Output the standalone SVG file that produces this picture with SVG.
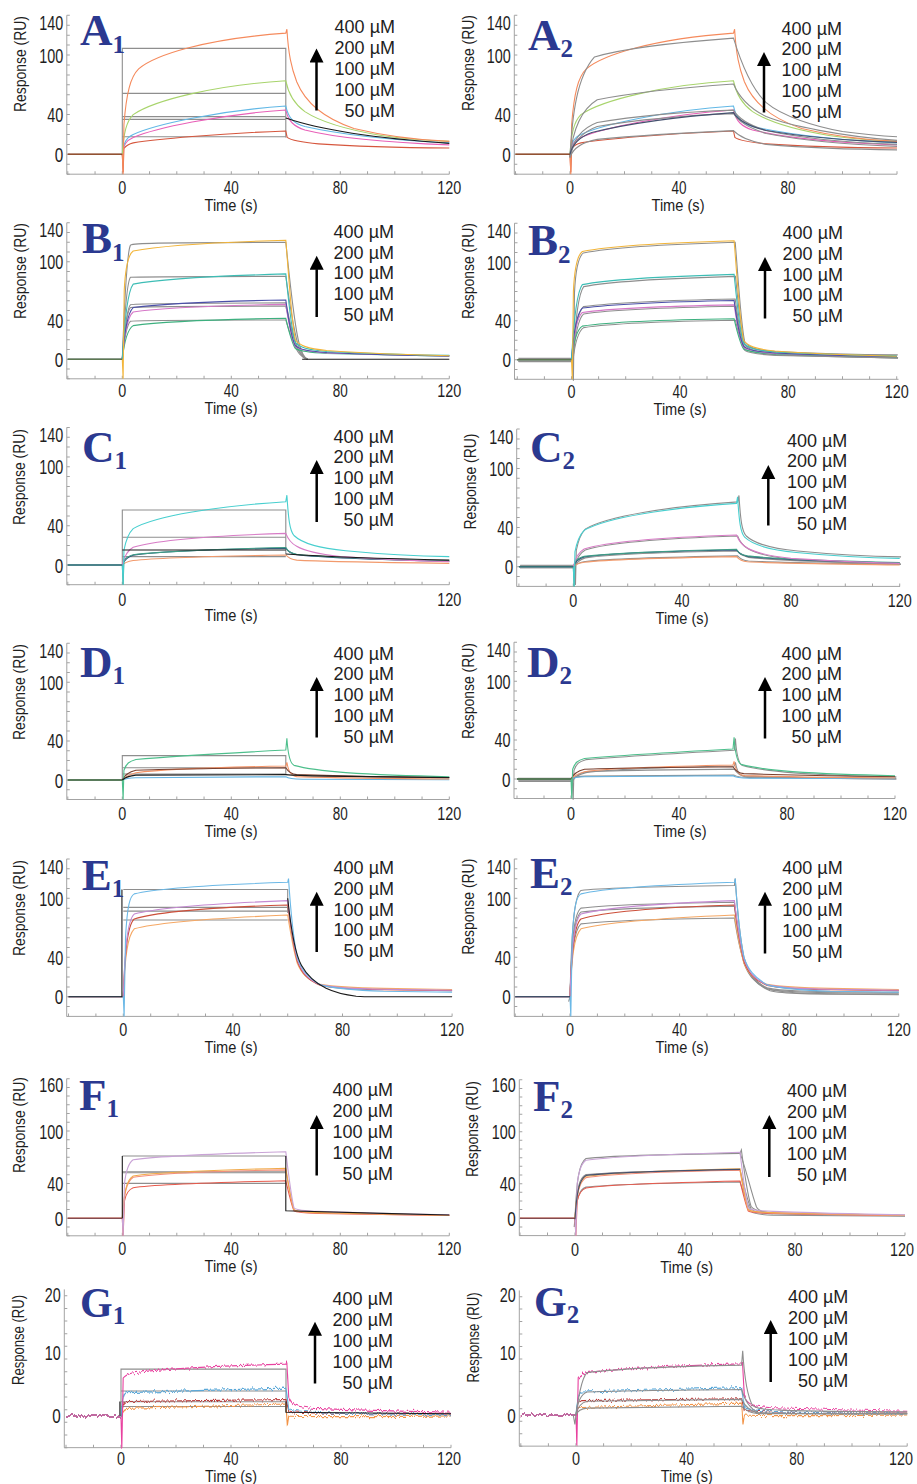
<svg xmlns="http://www.w3.org/2000/svg" width="917" height="1484" viewBox="0 0 917 1484">
<defs>
<style>
text{font-family:"Liberation Sans",Arial,sans-serif;fill:#1e1e1e}
.ax{fill:none;stroke:#a3a3a3;stroke-width:1}
.tk{fill:none;stroke:#a3a3a3;stroke-width:3}
.yl{font-size:21px;text-anchor:end}
.xl{font-size:17.5px;text-anchor:middle}
.tt{font-size:16.5px;text-anchor:middle}
.rl{font-size:16px;text-anchor:middle}
.cc{font-size:18px;text-anchor:end}
.lt{font-family:"Liberation Serif","Times New Roman",serif;font-weight:bold;font-size:45px;fill:#2B3990}
.lt tspan{font-size:25px}
.cv{fill:none;stroke-width:1.1}
.cv path{vector-effect:non-scaling-stroke}
.ar{stroke:#000;stroke-width:2.5;fill:none}
.fit{stroke:#8e8e8e}
.blk{stroke:#1a1a1a}
.nv0{stroke:#45516f}
.bsa{stroke:#7a3a22}.bsb{stroke:#3a6650}.bsc{stroke:#245a5a}.bsd{stroke:#3a5a3a}.bse{stroke:#2a3040}.bsf{stroke:#6a2e2e}
.aor{stroke:#F58A5C}.agr{stroke:#A8D46C}.abl{stroke:#62B8E6}.apk{stroke:#E860B8}.ard{stroke:#D6573E}
.byl{stroke:#F2B53A}.btl{stroke:#3DBDB5}.bnv{stroke:#4B4FA8}.bpk{stroke:#D678C8}.bgn{stroke:#3DB07F}
.ccy{stroke:#48CFCF}.cpk{stroke:#D77CC6}.ctg{stroke:#3F9C86}.cnv{stroke:#2F4F78}.cor{stroke:#F29A6C}
.dgn{stroke:#4DBF8C}.dor{stroke:#F39366}.dbr{stroke:#7A4030}.dbl{stroke:#62B4E4}
.ebl{stroke:#6BB8E6}.epu{stroke:#C48AD2}.erd{stroke:#CC4F3A}.eor{stroke:#F5A865}
.fli{stroke:#C9A3D6}.for{stroke:#F1AA4A}.fsa{stroke:#F48E7A}.frd{stroke:#E85A4C}
.gpk{stroke:#E8419F}.gbl{stroke:#5AA8D8}.grd{stroke:#B93A3A}.gor{stroke:#F39447}
</style>
<marker id="ah" markerUnits="userSpaceOnUse" markerWidth="15" markerHeight="15" refX="0.5" refY="7" orient="auto"><path d="M0 0L14 7L0 14z" fill="#000"/></marker>
<filter id="nz" x="-3%" y="-15%" width="106%" height="130%" color-interpolation-filters="sRGB">
<feTurbulence type="fractalNoise" baseFrequency="0.45 0.03" numOctaves="2" seed="7" result="t"/>
<feColorMatrix in="t" type="matrix" values="0 0 0 0 0.5 0 1 0 0 0 0 0 0 0 0 0 0 0 0 1" result="m"/>
<feDisplacementMap in="SourceGraphic" in2="m" scale="6" xChannelSelector="R" yChannelSelector="G"/>
</filter>
<path id="aOr" fill="none" vector-effect="non-scaling-stroke" d="M-20 0H0L0.3 -20L0.6 30C1.5 62 3 78 6 86C12 100 30 116 60 122L60.4 126C61 100 62 88 64 73C67 53 73 37 85 26C97 18 108 14.5 120 13"/>
<path id="aGr" fill="none" vector-effect="non-scaling-stroke" d="M-20 0H0C0.5 22 1.5 33 4 40C12 55 35 70 60 74C61 60 63 51 67 43C72 34 82 25 95 19C105 15 112 13.8 120 13"/>
<path id="aBl" fill="none" vector-effect="non-scaling-stroke" d="M-20 0H0C0.5 12 1.5 17 4 20C12 30 35 44 60 48.6C61 36 63 31 67 28C75 23 90 15.5 120 11.5"/>
<path id="aPk" fill="none" vector-effect="non-scaling-stroke" d="M-20 0H0C0.5 10 1.5 14 4 17C12 26 35 40 60 44.6C61 33 63 28 67 24.5C75 19 90 12.5 120 9.5"/>
<path id="aRd" fill="none" vector-effect="non-scaling-stroke" d="M-20 0H0L0.3 -18L0.6 6C1.5 9 2.5 10.5 4 11.5C12 15 35 21 60 23.5L60.5 17C62 14 66 12 72 10.5C85 8 100 6.8 120 6.3"/>
<path id="bYl" fill="none" vector-effect="non-scaling-stroke" d="M-20 0H0L0.3 -20L0.7 70C1.2 100 2.5 108 4 111C15 117 35 120 60 122C61 90 62 40 63.5 20C65 14 68 11 75 9C90 6 105 4.5 120 3.7"/>
<path id="bTl" fill="none" vector-effect="non-scaling-stroke" d="M-20 0H0C0.8 40 2 70 4 77C15 83 35 85.5 60 87.5C61 60 62 30 63.5 17C65 12 68 10 75 8C90 6 105 4.5 120 4"/>
<path id="bNv" fill="none" vector-effect="non-scaling-stroke" d="M-20 0H0C0.8 30 2 48 4 53C15 57 35 59.5 60 60.8C61 40 62 22 63.5 14C65 10 68 8.5 75 7C90 5 105 4 120 3.5"/>
<path id="bPk" fill="none" vector-effect="non-scaling-stroke" d="M-20 0H0C0.8 27 2 44 4 48.5C15 53 35 55 60 56.3C61 38 62 21 63.5 13C65 10 68 8 75 6.5C90 5 105 4 120 3.5"/>
<path id="bGn" fill="none" vector-effect="non-scaling-stroke" d="M-20 0H0C0.8 20 2 31 4 34.5C15 39 35 41 60 42C61 30 62 18 63.5 11C65 8.5 68 7 75 6C90 4.8 105 4 120 3.3"/>
<path id="cCy" fill="none" vector-effect="non-scaling-stroke" d="M-20 0H0L0.3 -20L0.6 15C1.5 28 2.5 33 4 37C12 50 35 60 60 64.4L60.4 71C61 45 61.5 35 63 30C66 22 72 17 82 14.5C95 11 108 9 120 8.5"/>
<path id="cPk" fill="none" vector-effect="non-scaling-stroke" d="M-20 0H0C0.8 10 2 15 4 18C12 25 35 30 60 32.2C61 25 62 22 64 19C67 14 72 11 80 8.5C95 6 108 4 120 3.4"/>
<path id="cTg" fill="none" vector-effect="non-scaling-stroke" d="M-20 0H0L0.3 -20L0.6 5C1.5 8 2.5 9.5 4 10.5C12 13 35 16.5 60 17.8C61 13 62 12 64 11C70 9 85 6.5 120 4.2"/>
<path id="cNv" fill="none" vector-effect="non-scaling-stroke" d="M-20 0H0C0.8 6 2 8.5 4 10C12 13 35 16 60 17C61 13 62 12 64 10.5C70 8.5 85 6 120 3.8"/>
<path id="cOr" fill="none" vector-effect="non-scaling-stroke" d="M-20 0H0C0.8 2.5 2 3.5 4 4.5C12 7 35 9 60 10.2C61 7 62 5.5 64 5C70 4 85 3 120 1.7"/>
<path id="dGn" fill="none" vector-effect="non-scaling-stroke" d="M-20 0H0L0.3 -20L0.6 10C1.5 17 2.5 19 5 21C15 23.5 35 27 60 30.7L60.4 42.7C60.8 25 61.5 17 63 15C67 12 73 9.5 82 7.5C95 5 108 4 120 3.4"/>
<path id="dOr" fill="none" vector-effect="non-scaling-stroke" d="M-20 0H0C0.8 3 2 5 5 7.5C12 10 35 13 60 14.3L60.4 18C61 8 62 4 64 3.5C75 2.5 95 1.5 120 1"/>
<path id="dBr" fill="none" vector-effect="non-scaling-stroke" d="M-20 0H0C0.8 5 2 8 5 10C12 11 35 12 60 12.6C61 8 62 6 64 5.5C75 4.5 95 3 120 2.5"/>
<path id="dBl" fill="none" vector-effect="non-scaling-stroke" d="M-20 0H0C0.8 1 2 1.8 5 2.3C15 2.8 35 3.2 60 3.4C61 1.5 63 1 66 0.8C80 0.5 100 0.4 120 0.3"/>
<path id="eBl" fill="none" vector-effect="non-scaling-stroke" d="M-20 0H0L0.3 -20L0.8 60C1.5 95 2.5 102 4 104.5C12 110 35 114 60 116.3L60.3 120C61 90 62 60 63.5 40C65 28 67 20 72 12C76 9 85 6.5 95 5.5C105 5 112 4.8 120 4.7"/>
<path id="ePu" fill="none" vector-effect="non-scaling-stroke" d="M-20 0H0C0.6 50 1.5 78 4 84C12 90 35 95 60 97.6C61 75 62 55 63.5 38C65 26 67 18 72 12C76 9.5 85 8 95 7.5C105 7 112 6.8 120 6.5"/>
<path id="eRd" fill="none" vector-effect="non-scaling-stroke" d="M-20 0H0C0.6 45 1.5 73 4 79C12 86 35 91 60 93.2C61 72 62 52 63.5 36C65 25 67 17 72 11.5C76 9 85 7.5 95 7C105 6.5 112 6.3 120 6.2"/>
<path id="eOr" fill="none" vector-effect="non-scaling-stroke" d="M-20 0H0C0.6 40 1.5 62 4 69C12 75 35 80 60 83C61 65 62 48 63.5 34C65 24 67 17 72 12.5C76 10.5 85 9 95 8.5C105 8 112 7.5 120 7.3"/>
<path id="fLi" fill="none" vector-effect="non-scaling-stroke" d="M-20 0H0L0.3 -20L0.8 40C1.5 58 2.5 64 4 67C12 71 35 74 60 76.3C61 50 62 25 63 12C64 9 67 8.5 72 8C90 6 105 4.5 120 4"/>
<path id="fOr" fill="none" vector-effect="non-scaling-stroke" d="M-20 0H0C0.6 30 1.5 44 4 48.5C12 52 35 55.5 60 57.3C61 38 62 20 63 10C64 7.5 67 7 72 6.5C90 5 105 4 120 3.5"/>
<path id="fSa" fill="none" vector-effect="non-scaling-stroke" d="M-20 0H0C0.6 28 1.5 42 4 47C12 51 35 54 60 55.5C61 37 62 19 63 9.5C64 7 67 6.5 72 6C90 4.5 105 3.8 120 3.3"/>
<path id="fRd" fill="none" vector-effect="non-scaling-stroke" d="M-20 0H0L0.3 -20L0.8 20C1.5 30 2.5 33 4 35C12 39 35 41.2 60 43C61 30 62 16 63 8.5C64 6.5 67 6 72 5.5C90 4.5 105 3.8 120 3.3"/>
<path id="gPk" fill="none" vector-effect="non-scaling-stroke" d="M-20 0H0L0.3 -5L0.8 6C1.5 6.4 2.5 6.6 4 6.8C15 7.4 35 7.9 60 8.2L60.3 8.6L61 3C62 1.7 64 1.4 70 1.2C90 0.9 105 0.7 120 0.6"/>
<path id="gBl" fill="none" vector-effect="non-scaling-stroke" d="M-20 0H0C0.5 2.8 1 3.5 2 3.7C15 3.9 35 4.1 60 4.4L61 1.2C63 0.6 70 0.4 120 0.2"/>
<path id="gRd" fill="none" vector-effect="non-scaling-stroke" d="M-20 0H0C0.5 1.8 1 2.2 2 2.3C15 2.4 35 2.5 60 2.6L61 0.8C63 0.5 70 0.4 120 0.3"/>
<path id="gOr" fill="none" vector-effect="non-scaling-stroke" d="M-20 0H0C0.5 0.8 1 1.1 2 1.2C15 1.4 35 1.6 60 1.9L60.5 -1.5L61 0C65 -0.2 90 -0.1 120 0"/>
</defs>

<g id="panel-A1">
<path class="ax" d="M66.8 15.3V174.2H449.3"/>
<path class="tk" d="M67.3 172.7H450.3" stroke-dasharray="1 26.25"/>
<path class="tk" d="M68.3 174.7V14.3" stroke-dasharray="1 8.93"/>
<text class="yl" x="63.3" y="30" textLength="24" lengthAdjust="spacingAndGlyphs">140</text>
<text class="yl" x="63.3" y="62.5" textLength="24" lengthAdjust="spacingAndGlyphs">100</text>
<text class="yl" x="63.3" y="122" textLength="16" lengthAdjust="spacingAndGlyphs">40</text>
<text class="yl" x="63.3" y="161.8" textLength="8.5" lengthAdjust="spacingAndGlyphs">0</text>
<text class="xl" x="122.3" y="194" textLength="8" lengthAdjust="spacingAndGlyphs">0</text>
<text class="xl" x="231.3" y="194" textLength="15" lengthAdjust="spacingAndGlyphs">40</text>
<text class="xl" x="340.3" y="194" textLength="15" lengthAdjust="spacingAndGlyphs">80</text>
<text class="xl" x="449.3" y="194" textLength="24" lengthAdjust="spacingAndGlyphs">120</text>
<text class="tt" x="231" y="211" textLength="53" lengthAdjust="spacingAndGlyphs">Time (s)</text>
<text class="rl" transform="translate(26 64) rotate(-90)" textLength="96" lengthAdjust="spacingAndGlyphs">Response (RU)</text>
<g class="cv" transform="translate(122.3 154.3) scale(2.725 -0.993)">
<path class="fit" d="M0 -2V106.7H60V17"/><path class="fit" d="M0 61.4H60"/><path class="fit" d="M0 37.9H60"/><path class="fit" d="M0 35.2H60"/><path class="fit" d="M0 17.7H60"/>
<use href="#aRd" class="ard"/><use href="#aPk" class="apk"/><use href="#aBl" class="abl"/><use href="#aGr" class="agr"/><use href="#aOr" class="aor"/>
<path class="blk" d="M60 36.5C70 27 88 17 120 11"/><path class="bsa" d="M-20 0H0"/>
</g>
<text class="lt" x="80" y="45">A<tspan dy="8">1</tspan></text>
<text class="cc" x="395" y="33">400 µM<tspan x="395" dy="21">200 µM</tspan><tspan x="395" dy="21">100 µM</tspan><tspan x="395" dy="21">100 µM</tspan><tspan x="395" dy="21">50 µM</tspan></text>
<path class="ar" d="M316.5 110.5V62" marker-end="url(#ah)"/>
</g>

<g id="panel-A2">
<path class="ax" d="M514.3 15.3V174.2H897"/>
<path class="tk" d="M515 172.7H898" stroke-dasharray="1 26.25"/>
<path class="tk" d="M515.8 174.7V14.3" stroke-dasharray="1 8.93"/>
<text class="yl" x="510.8" y="30" textLength="24" lengthAdjust="spacingAndGlyphs">140</text>
<text class="yl" x="510.8" y="62.5" textLength="24" lengthAdjust="spacingAndGlyphs">100</text>
<text class="yl" x="510.8" y="122" textLength="16" lengthAdjust="spacingAndGlyphs">40</text>
<text class="yl" x="510.8" y="161.8" textLength="8.5" lengthAdjust="spacingAndGlyphs">0</text>
<text class="xl" x="570" y="194" textLength="8" lengthAdjust="spacingAndGlyphs">0</text>
<text class="xl" x="679" y="194" textLength="15" lengthAdjust="spacingAndGlyphs">40</text>
<text class="xl" x="788" y="194" textLength="15" lengthAdjust="spacingAndGlyphs">80</text>
<text class="tt" x="678" y="211" textLength="53" lengthAdjust="spacingAndGlyphs">Time (s)</text>
<text class="rl" transform="translate(474 63) rotate(-90)" textLength="96" lengthAdjust="spacingAndGlyphs">Response (RU)</text>
<g class="cv" transform="translate(570 154.3) scale(2.725 -0.993)">
<use href="#aRd" class="ard"/><use href="#aPk" class="apk"/><use href="#aBl" class="abl"/><use href="#aGr" class="agr"/><use href="#aOr" class="aor"/>
<path class="fit" d="M0 -3C0.8 40 2.5 78 9 98C20 107 40 113 60 117C63 90 67 65 72 52C78 38 90 28 100 23C108 20 114 18.5 120 17.7"/>
<path class="fit" d="M0 -3C1 25 4 45 10 55C25 63 45 68 60 70.8C62 58 66 46 72 38C80 29 100 18 120 14"/>
<path class="fit" d="M0 -3C1 14 4 26 10 32C25 39 45 43 60 44.5C62 35 66 29 72 24C85 16 100 12 120 10"/>
<path class="fit" d="M0 -3C1 12 4 22 10 28C25 35 45 39.5 60 41C62 32 66 26 72 21C85 14 100 10 120 8"/>
<path class="fit" d="M0 -3C1 5 4 12 10 15C25 19 45 22 60 23.8C62 18 66 13 72 10C85 7 100 5 120 4.5"/>
<path class="nv0" d="M0 0C0.8 10 3 17 8 22C20 30 40 38 60 42C62 33 66 28 72 24C85 18 100 14 120 12"/>
<path class="bsa" d="M-20 0H0"/>
</g>
<text class="lt" x="528" y="50">A<tspan dy="7">2</tspan></text>
<text class="cc" x="842" y="34.5">400 µM<tspan x="842" dy="20.8">200 µM</tspan><tspan x="842" dy="20.8">100 µM</tspan><tspan x="842" dy="20.8">100 µM</tspan><tspan x="842" dy="20.8">50 µM</tspan></text>
<path class="ar" d="M764 112.5V65.5" marker-end="url(#ah)"/>
</g>

<g id="panel-B1">
<path class="ax" d="M66.8 222.7V378.8H449.3"/>
<path class="tk" d="M67.3 377.3H450.3" stroke-dasharray="1 26.25"/>
<path class="tk" d="M68.3 379.3V221.7" stroke-dasharray="1 8.76"/>
<text class="yl" x="63.3" y="237.4" textLength="24" lengthAdjust="spacingAndGlyphs">140</text>
<text class="yl" x="63.3" y="269.2" textLength="24" lengthAdjust="spacingAndGlyphs">100</text>
<text class="yl" x="63.3" y="327.8" textLength="16" lengthAdjust="spacingAndGlyphs">40</text>
<text class="yl" x="63.3" y="366.8" textLength="8.5" lengthAdjust="spacingAndGlyphs">0</text>
<text class="xl" x="122.3" y="397" textLength="8" lengthAdjust="spacingAndGlyphs">0</text>
<text class="xl" x="231.3" y="397" textLength="15" lengthAdjust="spacingAndGlyphs">40</text>
<text class="xl" x="340.3" y="397" textLength="15" lengthAdjust="spacingAndGlyphs">80</text>
<text class="xl" x="449.3" y="397" textLength="24" lengthAdjust="spacingAndGlyphs">120</text>
<text class="tt" x="231" y="414" textLength="53" lengthAdjust="spacingAndGlyphs">Time (s)</text>
<text class="rl" transform="translate(25.5 271) rotate(-90)" textLength="96" lengthAdjust="spacingAndGlyphs">Response (RU)</text>
<g class="cv" transform="translate(122.3 359.3) scale(2.725 -0.976)">
<path class="fit" d="M0 0C0.8 60 1.6 110 3 117C4 119 10 119.5 60 119.9C61.5 80 63 35 65 15C66 5 67 1 68 0"/>
<path class="fit" d="M0 0C0.8 45 1.6 80 3 84C4 84.6 10 84.6 60 85C61.5 55 63 25 65 11C66 4 67 1 68 0"/>
<path class="fit" d="M0 0C0.8 30 1.6 52 3 56C4 57 10 57.5 60 57.8C61.5 38 63 17 65 8C66 3 67 1 68 0"/>
<path class="fit" d="M0 0C0.8 28 1.6 50 3 53C4 54 10 54.3 60 54.5C61.5 36 63 16 65 7.5C66 3 67 1 68 0"/>
<path class="fit" d="M0 0C0.8 22 1.6 36 3 39C4 40 10 40.2 60 40.3C61.5 26 63 12 65 5.5C66 2 67 0.8 68 0"/>
<use href="#bGn" class="bgn"/><use href="#bPk" class="bpk"/><use href="#bNv" class="bnv"/><use href="#bTl" class="btl"/><use href="#bYl" class="byl"/>
<path class="blk" d="M66 0H120"/><path class="bsb" d="M-20 0H0"/>
</g>
<text class="lt" x="82" y="253">B<tspan dy="8">1</tspan></text>
<text class="cc" x="394" y="237.7">400 µM<tspan x="394" dy="20.8">200 µM</tspan><tspan x="394" dy="20.8">100 µM</tspan><tspan x="394" dy="20.8">100 µM</tspan><tspan x="394" dy="20.8">50 µM</tspan></text>
<path class="ar" d="M316.7 317V269.2" marker-end="url(#ah)"/>
</g>

<g id="panel-B2">
<path class="ax" d="M514.5 223.2V379.3H898.5"/>
<path class="tk" d="M516.8 377.8H899.5" stroke-dasharray="1 26.1"/>
<path class="tk" d="M516 379.8V222.2" stroke-dasharray="1 8.76"/>
<text class="yl" x="511" y="238" textLength="24" lengthAdjust="spacingAndGlyphs">140</text>
<text class="yl" x="511" y="269.7" textLength="24" lengthAdjust="spacingAndGlyphs">100</text>
<text class="yl" x="511" y="328.3" textLength="16" lengthAdjust="spacingAndGlyphs">40</text>
<text class="yl" x="511" y="367.3" textLength="8.5" lengthAdjust="spacingAndGlyphs">0</text>
<text class="xl" x="571.5" y="397.5" textLength="8" lengthAdjust="spacingAndGlyphs">0</text>
<text class="xl" x="679.9" y="397.5" textLength="15" lengthAdjust="spacingAndGlyphs">40</text>
<text class="xl" x="788.3" y="397.5" textLength="15" lengthAdjust="spacingAndGlyphs">80</text>
<text class="xl" x="896.7" y="397.5" textLength="24" lengthAdjust="spacingAndGlyphs">120</text>
<text class="tt" x="680" y="415" textLength="53" lengthAdjust="spacingAndGlyphs">Time (s)</text>
<text class="rl" transform="translate(474 271) rotate(-90)" textLength="96" lengthAdjust="spacingAndGlyphs">Response (RU)</text>
<g class="cv" transform="translate(571.5 359.8) scale(2.71 -0.976)">
<use href="#bGn" class="fit" transform="translate(0.5 -1.5)"/><use href="#bPk" class="fit" transform="translate(0.5 -1.5)"/><use href="#bNv" class="fit" transform="translate(0.4 1.5)"/><use href="#bTl" class="fit" transform="translate(0.5 -2)"/><use href="#bYl" class="fit" transform="translate(0.4 -1.5)"/>
<use href="#bGn" class="bgn"/><use href="#bPk" class="bpk"/><use href="#bNv" class="bnv"/><use href="#bTl" class="btl"/><use href="#bYl" class="byl"/>
<path class="bsb" d="M-20 0H0"/>
</g>
<text class="lt" x="528" y="255">B<tspan dy="7.5">2</tspan></text>
<text class="cc" x="843" y="239">400 µM<tspan x="843" dy="20.8">200 µM</tspan><tspan x="843" dy="20.8">100 µM</tspan><tspan x="843" dy="20.8">100 µM</tspan><tspan x="843" dy="20.8">50 µM</tspan></text>
<path class="ar" d="M765 318.5V270.5" marker-end="url(#ah)"/>
</g>

<g id="panel-C1">
<path class="ax" d="M66.8 427.4V584.7H449.3"/>
<path class="tk" d="M67.3 583.2H450.3" stroke-dasharray="1 26.25"/>
<path class="tk" d="M68.3 585.2V426.4" stroke-dasharray="1 8.83"/>
<text class="yl" x="63.3" y="442" textLength="24" lengthAdjust="spacingAndGlyphs">140</text>
<text class="yl" x="63.3" y="474.2" textLength="24" lengthAdjust="spacingAndGlyphs">100</text>
<text class="yl" x="63.3" y="533.2" textLength="16" lengthAdjust="spacingAndGlyphs">40</text>
<text class="yl" x="63.3" y="572.5" textLength="8.5" lengthAdjust="spacingAndGlyphs">0</text>
<text class="xl" x="122.3" y="606" textLength="8" lengthAdjust="spacingAndGlyphs">0</text>
<text class="xl" x="449.3" y="606" textLength="24" lengthAdjust="spacingAndGlyphs">120</text>
<text class="tt" x="231" y="621" textLength="53" lengthAdjust="spacingAndGlyphs">Time (s)</text>
<text class="rl" transform="translate(24.5 477) rotate(-90)" textLength="96" lengthAdjust="spacingAndGlyphs">Response (RU)</text>
<g class="cv" transform="translate(122.3 565) scale(2.725 -0.983)">
<path class="fit" d="M0 0V56H60V11"/><path class="fit" d="M0 28.2H60"/><path class="fit" d="M0 8.5H60"/>
<use href="#cOr" class="cor"/><use href="#cNv" class="cnv"/><use href="#cTg" class="ctg"/><use href="#cPk" class="cpk"/><use href="#cCy" class="ccy"/>
<path class="blk" d="M0 15.3H60"/><path class="blk" d="M60 11.2C75 8.5 95 6.5 120 5"/><path class="bsc" d="M-20 0H0"/>
</g>
<text class="lt" x="82" y="462">C<tspan dy="7">1</tspan></text>
<text class="cc" x="394" y="442.7">400 µM<tspan x="394" dy="20.7">200 µM</tspan><tspan x="394" dy="20.7">100 µM</tspan><tspan x="394" dy="20.7">100 µM</tspan><tspan x="394" dy="20.7">50 µM</tspan></text>
<path class="ar" d="M316.7 522V473.5" marker-end="url(#ah)"/>
</g>

<g id="panel-C2">
<path class="ax" d="M516.7 429.1V586.4H900"/>
<path class="tk" d="M518.4 584.9H901" stroke-dasharray="1 26.2"/>
<path class="tk" d="M518.2 586.9V428.1" stroke-dasharray="1 8.83"/>
<text class="yl" x="513.2" y="443.8" textLength="24" lengthAdjust="spacingAndGlyphs">140</text>
<text class="yl" x="513.2" y="475.9" textLength="24" lengthAdjust="spacingAndGlyphs">100</text>
<text class="yl" x="513.2" y="535.4" textLength="16" lengthAdjust="spacingAndGlyphs">40</text>
<text class="yl" x="513.2" y="574.2" textLength="8.5" lengthAdjust="spacingAndGlyphs">0</text>
<text class="xl" x="573.3" y="607" textLength="8" lengthAdjust="spacingAndGlyphs">0</text>
<text class="xl" x="682.1" y="607" textLength="15" lengthAdjust="spacingAndGlyphs">40</text>
<text class="xl" x="790.9" y="607" textLength="15" lengthAdjust="spacingAndGlyphs">80</text>
<text class="xl" x="899.7" y="607" textLength="24" lengthAdjust="spacingAndGlyphs">120</text>
<text class="tt" x="682" y="624" textLength="53" lengthAdjust="spacingAndGlyphs">Time (s)</text>
<text class="rl" transform="translate(476 481.5) rotate(-90)" textLength="96" lengthAdjust="spacingAndGlyphs">Response (RU)</text>
<g class="cv" transform="translate(573.3 566.7) scale(2.72 -0.983)">
<use href="#cOr" class="fit" transform="translate(0.4 0.8)"/><use href="#cNv" class="fit" transform="translate(0.4 -1)"/><use href="#cPk" class="fit" transform="translate(0.4 -1)"/><use href="#cCy" class="fit" transform="translate(0.5 1.5)"/>
<use href="#cOr" class="cor"/><use href="#cNv" class="cnv"/><use href="#cTg" class="ctg"/><use href="#cPk" class="cpk"/><use href="#cCy" class="ccy"/>
<path class="bsc" d="M-20 0H0"/>
</g>
<text class="lt" x="530" y="461.7">C<tspan dy="7">2</tspan></text>
<text class="cc" x="847.3" y="446.7">400 µM<tspan x="847.3" dy="20.7">200 µM</tspan><tspan x="847.3" dy="20.7">100 µM</tspan><tspan x="847.3" dy="20.7">100 µM</tspan><tspan x="847.3" dy="20.7">50 µM</tspan></text>
<path class="ar" d="M768.3 525.5V478.5" marker-end="url(#ah)"/>
</g>

<g id="panel-D1">
<path class="ax" d="M66.8 643.2V799.5H449.3"/>
<path class="tk" d="M67.3 798H450.3" stroke-dasharray="1 26.25"/>
<path class="tk" d="M68.3 800V642.2" stroke-dasharray="1 8.77"/>
<text class="yl" x="63.3" y="657.9" textLength="24" lengthAdjust="spacingAndGlyphs">140</text>
<text class="yl" x="63.3" y="689.8" textLength="24" lengthAdjust="spacingAndGlyphs">100</text>
<text class="yl" x="63.3" y="748.4" textLength="16" lengthAdjust="spacingAndGlyphs">40</text>
<text class="yl" x="63.3" y="787.5" textLength="8.5" lengthAdjust="spacingAndGlyphs">0</text>
<text class="xl" x="122.3" y="819.5" textLength="8" lengthAdjust="spacingAndGlyphs">0</text>
<text class="xl" x="231.3" y="819.5" textLength="15" lengthAdjust="spacingAndGlyphs">40</text>
<text class="xl" x="340.3" y="819.5" textLength="15" lengthAdjust="spacingAndGlyphs">80</text>
<text class="xl" x="449.3" y="819.5" textLength="24" lengthAdjust="spacingAndGlyphs">120</text>
<text class="tt" x="231" y="837" textLength="53" lengthAdjust="spacingAndGlyphs">Time (s)</text>
<text class="rl" transform="translate(25 692) rotate(-90)" textLength="96" lengthAdjust="spacingAndGlyphs">Response (RU)</text>
<g class="cv" transform="translate(122.3 780) scale(2.725 -0.977)">
<path class="fit" d="M0 0V24.9H60V5"/><path class="fit" d="M0 12.6H60"/><path class="fit" d="M0 6.1H60"/>
<use href="#dBl" class="dbl"/><use href="#dOr" class="dor"/><use href="#dBr" class="dbr"/><use href="#dGn" class="dgn"/>
<path class="blk" d="M0 0C0.8 2 2 4 5 5C15 5.2 35 5.4 60 5.5C62 5 66 4.5 75 4C90 3.2 105 2.7 120 2.4"/><path class="bsd" d="M-20 0H0"/>
</g>
<text class="lt" x="80" y="676.7">D<tspan dy="7">1</tspan></text>
<text class="cc" x="394" y="659.5">400 µM<tspan x="394" dy="20.8">200 µM</tspan><tspan x="394" dy="20.8">100 µM</tspan><tspan x="394" dy="20.8">100 µM</tspan><tspan x="394" dy="20.8">50 µM</tspan></text>
<path class="ar" d="M316.7 737.5V690.5" marker-end="url(#ah)"/>
</g>

<g id="panel-D2">
<path class="ax" d="M514 642.2V798.5H895"/>
<path class="tk" d="M516.5 797H896" stroke-dasharray="1 26"/>
<path class="tk" d="M515.5 799V641.2" stroke-dasharray="1 8.77"/>
<text class="yl" x="510.5" y="656.9" textLength="24" lengthAdjust="spacingAndGlyphs">140</text>
<text class="yl" x="510.5" y="688.8" textLength="24" lengthAdjust="spacingAndGlyphs">100</text>
<text class="yl" x="510.5" y="747.4" textLength="16" lengthAdjust="spacingAndGlyphs">40</text>
<text class="yl" x="510.5" y="786.5" textLength="8.5" lengthAdjust="spacingAndGlyphs">0</text>
<text class="xl" x="571" y="819.5" textLength="8" lengthAdjust="spacingAndGlyphs">0</text>
<text class="xl" x="679" y="819.5" textLength="15" lengthAdjust="spacingAndGlyphs">40</text>
<text class="xl" x="787" y="819.5" textLength="15" lengthAdjust="spacingAndGlyphs">80</text>
<text class="xl" x="895" y="819.5" textLength="24" lengthAdjust="spacingAndGlyphs">120</text>
<text class="tt" x="680" y="837" textLength="53" lengthAdjust="spacingAndGlyphs">Time (s)</text>
<text class="rl" transform="translate(474 691) rotate(-90)" textLength="96" lengthAdjust="spacingAndGlyphs">Response (RU)</text>
<g class="cv" transform="translate(571 779) scale(2.7 -0.977)">
<use href="#dGn" class="fit" transform="translate(0.5 -1.2)"/><use href="#dOr" class="fit" transform="translate(0.5 -1)"/><use href="#dBr" class="fit" transform="translate(0.5 -2.5)"/><use href="#dBl" class="fit" transform="translate(0.4 0.6)"/>
<use href="#dBl" class="dbl"/><use href="#dOr" class="dor"/><use href="#dBr" class="dbr"/><use href="#dGn" class="dgn"/>
<path class="bsd" d="M-20 0H0"/>
</g>
<text class="lt" x="527" y="677">D<tspan dy="7">2</tspan></text>
<text class="cc" x="842" y="659.5">400 µM<tspan x="842" dy="20.8">200 µM</tspan><tspan x="842" dy="20.8">100 µM</tspan><tspan x="842" dy="20.8">100 µM</tspan><tspan x="842" dy="20.8">50 µM</tspan></text>
<path class="ar" d="M765 738.5V690.5" marker-end="url(#ah)"/>
</g>

<g id="panel-E1">
<path class="ax" d="M66.7 858.9V1016.4H452.1"/>
<path class="tk" d="M68 1014.9H453" stroke-dasharray="1 26.4"/>
<path class="tk" d="M68.2 1016.9V857.9" stroke-dasharray="1 8.84"/>
<text class="yl" x="63.2" y="873.6" textLength="24" lengthAdjust="spacingAndGlyphs">140</text>
<text class="yl" x="63.2" y="905.8" textLength="24" lengthAdjust="spacingAndGlyphs">100</text>
<text class="yl" x="63.2" y="964.8" textLength="16" lengthAdjust="spacingAndGlyphs">40</text>
<text class="yl" x="63.2" y="1004.2" textLength="8.5" lengthAdjust="spacingAndGlyphs">0</text>
<text class="xl" x="123.3" y="1036" textLength="8" lengthAdjust="spacingAndGlyphs">0</text>
<text class="xl" x="232.9" y="1036" textLength="15" lengthAdjust="spacingAndGlyphs">40</text>
<text class="xl" x="342.5" y="1036" textLength="15" lengthAdjust="spacingAndGlyphs">80</text>
<text class="xl" x="452.1" y="1036" textLength="24" lengthAdjust="spacingAndGlyphs">120</text>
<text class="tt" x="231" y="1053" textLength="53" lengthAdjust="spacingAndGlyphs">Time (s)</text>
<text class="rl" transform="translate(25 908) rotate(-90)" textLength="96" lengthAdjust="spacingAndGlyphs">Response (RU)</text>
<g class="cv" transform="translate(123.3 996.7) scale(2.74 -0.984)">
<path class="fit" d="M0 109H60V85"/><path class="fit" d="M0 90.8H60"/><path class="fit" d="M0 87H60"/><path class="fit" d="M0 78H60"/>
<use href="#eOr" class="eor"/><use href="#eRd" class="erd"/><use href="#ePu" class="epu"/><use href="#eBl" class="ebl"/>
<path class="blk" d="M-20 0H-0.5V109"/>
<path class="blk" d="M60 100C61.5 60 63 42 65 32C67 22 70 14 74 8.5C77 4.5 80 2 85 0.5L88 0H120"/>
</g>
<text class="lt" x="81.7" y="890">E<tspan dy="7">1</tspan></text>
<text class="cc" x="394" y="874">400 µM<tspan x="394" dy="20.8">200 µM</tspan><tspan x="394" dy="20.8">100 µM</tspan><tspan x="394" dy="20.8">100 µM</tspan><tspan x="394" dy="20.8">50 µM</tspan></text>
<path class="ar" d="M316.7 952V905.2" marker-end="url(#ah)"/>
</g>

<g id="panel-E2">
<path class="ax" d="M514.3 858.9V1016.4H898.8"/>
<path class="tk" d="M514.7 1014.9H899.8" stroke-dasharray="1 26.4"/>
<path class="tk" d="M515.8 1016.9V857.9" stroke-dasharray="1 8.84"/>
<text class="yl" x="510.8" y="873.6" textLength="24" lengthAdjust="spacingAndGlyphs">140</text>
<text class="yl" x="510.8" y="905.8" textLength="24" lengthAdjust="spacingAndGlyphs">100</text>
<text class="yl" x="510.8" y="964.8" textLength="16" lengthAdjust="spacingAndGlyphs">40</text>
<text class="yl" x="510.8" y="1004.2" textLength="8.5" lengthAdjust="spacingAndGlyphs">0</text>
<text class="xl" x="570" y="1035.5" textLength="8" lengthAdjust="spacingAndGlyphs">0</text>
<text class="xl" x="679.6" y="1035.5" textLength="15" lengthAdjust="spacingAndGlyphs">40</text>
<text class="xl" x="789.2" y="1035.5" textLength="15" lengthAdjust="spacingAndGlyphs">80</text>
<text class="xl" x="898.8" y="1035.5" textLength="24" lengthAdjust="spacingAndGlyphs">120</text>
<text class="tt" x="682" y="1052.5" textLength="53" lengthAdjust="spacingAndGlyphs">Time (s)</text>
<text class="rl" transform="translate(474 906.7) rotate(-90)" textLength="96" lengthAdjust="spacingAndGlyphs">Response (RU)</text>
<g class="cv" transform="translate(570 996.7) scale(2.74 -0.984)">
<path class="fit" d="M-0.5 -5L0 0C0.6 70 1.5 102 4 108C12 111 35 112 60 113L60.3 120C61 90 62 60 63.5 40C65 26 67 16 72 8C76 4 85 2.5 120 2"/>
<path class="fit" d="M0 -3C0.6 60 1.5 85 4 90C12 93 35 95 60 96C61 75 62 52 63.5 35C65 24 67 15 72 9C76 6 85 5 120 4.5"/>
<path class="fit" d="M0 -3C0.6 55 1.5 80 4 86C12 89 35 91 60 92C61 70 62 50 63.5 34C65 23 67 14 72 8C76 5 85 4 120 3.5"/>
<path class="fit" d="M0 -3C0.6 45 1.5 68 4 74C12 77 35 79 60 80C61 62 62 45 64 32C66 20 68 12 73 6C77 3 85 2.5 120 2.5"/>
<use href="#eOr" class="eor"/><use href="#eRd" class="erd"/><use href="#ePu" class="epu"/><use href="#eBl" class="ebl"/>
<path class="bse" d="M-20 0H0"/>
</g>
<text class="lt" x="530" y="887.7">E<tspan dy="7">2</tspan></text>
<text class="cc" x="842.7" y="874.3">400 µM<tspan x="842.7" dy="20.8">200 µM</tspan><tspan x="842.7" dy="20.8">100 µM</tspan><tspan x="842.7" dy="20.8">100 µM</tspan><tspan x="842.7" dy="20.8">50 µM</tspan></text>
<path class="ar" d="M765 953.5V905.2" marker-end="url(#ah)"/>
</g>

<g id="panel-F1">
<path class="ax" d="M66.7 1078.6V1235.8H449.3"/>
<path class="tk" d="M67.3 1234.3H450.3" stroke-dasharray="1 26.25"/>
<path class="tk" d="M68.2 1236.3V1077.6" stroke-dasharray="1 7.73"/>
<text class="yl" x="63.2" y="1092" textLength="24" lengthAdjust="spacingAndGlyphs">160</text>
<text class="yl" x="63.2" y="1138.5" textLength="24" lengthAdjust="spacingAndGlyphs">100</text>
<text class="yl" x="63.2" y="1190.9" textLength="16" lengthAdjust="spacingAndGlyphs">40</text>
<text class="yl" x="63.2" y="1225.8" textLength="8.5" lengthAdjust="spacingAndGlyphs">0</text>
<text class="xl" x="122.3" y="1254.5" textLength="8" lengthAdjust="spacingAndGlyphs">0</text>
<text class="xl" x="231.3" y="1254.5" textLength="15" lengthAdjust="spacingAndGlyphs">40</text>
<text class="xl" x="340.3" y="1254.5" textLength="15" lengthAdjust="spacingAndGlyphs">80</text>
<text class="xl" x="449.3" y="1254.5" textLength="24" lengthAdjust="spacingAndGlyphs">120</text>
<text class="tt" x="231" y="1271.5" textLength="53" lengthAdjust="spacingAndGlyphs">Time (s)</text>
<text class="rl" transform="translate(25 1125) rotate(-90)" textLength="96" lengthAdjust="spacingAndGlyphs">Response (RU)</text>
<g class="cv" transform="translate(122.3 1218.3) scale(2.725 -0.873)">
<path class="fit" d="M0 71.4H60"/><path class="fit" d="M0 53.4H60"/><path class="fit" d="M0 52.2H60"/><path class="fit" d="M0 40H60"/>
<use href="#fRd" class="frd"/><use href="#fSa" class="fsa"/><use href="#fOr" class="for"/><use href="#fLi" class="fli"/>
<path class="blk" d="M0 0V71.4"/>
<path class="blk" d="M60 71.4V8.7C75 7.5 100 5 120 3.8"/><path class="bsf" d="M-20 0H0"/>
</g>
<text class="lt" x="79" y="1110">F<tspan dy="6.5">1</tspan></text>
<text class="cc" x="393" y="1096">400 µM<tspan x="393" dy="21">200 µM</tspan><tspan x="393" dy="21">100 µM</tspan><tspan x="393" dy="21">100 µM</tspan><tspan x="393" dy="21">50 µM</tspan></text>
<path class="ar" d="M316.7 1175.5V1128.5" marker-end="url(#ah)"/>
</g>

<g id="panel-F2">
<path class="ax" d="M519.3 1079.7V1235.6H905"/>
<path class="tk" d="M519.5 1234.1H906" stroke-dasharray="1 26.5"/>
<path class="tk" d="M520.8 1236.1V1078.7" stroke-dasharray="1 7.66"/>
<text class="yl" x="515.8" y="1092" textLength="24" lengthAdjust="spacingAndGlyphs">160</text>
<text class="yl" x="515.8" y="1139.2" textLength="24" lengthAdjust="spacingAndGlyphs">100</text>
<text class="yl" x="515.8" y="1191.2" textLength="16" lengthAdjust="spacingAndGlyphs">40</text>
<text class="yl" x="515.8" y="1225.8" textLength="8.5" lengthAdjust="spacingAndGlyphs">0</text>
<text class="xl" x="575" y="1256" textLength="8" lengthAdjust="spacingAndGlyphs">0</text>
<text class="xl" x="685" y="1256" textLength="15" lengthAdjust="spacingAndGlyphs">40</text>
<text class="xl" x="795" y="1256" textLength="15" lengthAdjust="spacingAndGlyphs">80</text>
<text class="xl" x="902" y="1256" textLength="24" lengthAdjust="spacingAndGlyphs">120</text>
<text class="tt" x="686.7" y="1273" textLength="53" lengthAdjust="spacingAndGlyphs">Time (s)</text>
<text class="rl" transform="translate(478 1129) rotate(-90)" textLength="96" lengthAdjust="spacingAndGlyphs">Response (RU)</text>
<g class="cv" transform="translate(575 1218.3) scale(2.75 -0.866)">
<path class="fit" d="M-0.3 -10L0 0C0.6 45 1.5 64 4 69C12 72 35 74 60 75L60.5 79C61.5 55 62.5 30 64 14C65 9 68 7 72 6C90 5 105 4 120 3.5"/>
<path class="fit" d="M0 -3C0.6 35 1.5 47 4 50.5C12 53 35 55 60 55.8C61.5 38 62.5 22 64 11C65 7 68 5.5 72 5C90 4 105 3.5 120 3"/>
<path class="fit" d="M0 -3C0.6 25 1.5 33 4 36C12 39 35 41 60 42C61.5 28 62.5 16 64 8C65 5 68 4 72 3.5C90 3 105 2.8 120 2.5"/>
<path class="fit" d="M60 75C62 60 64 30 66 13C67 7 70 6 75 5.5"/>
<use href="#fRd" class="frd"/><use href="#fSa" class="fsa"/><use href="#fOr" class="for"/><use href="#fLi" class="fli"/>
<path class="nv0" d="M0 -1C0.6 30 1.5 45 4 49.5C12 52.5 35 55 60 56.5"/>
<path class="bsf" d="M-20 0H0"/>
</g>
<text class="lt" x="533" y="1111">F<tspan dy="6.5">2</tspan></text>
<text class="cc" x="847.3" y="1097.3">400 µM<tspan x="847.3" dy="21">200 µM</tspan><tspan x="847.3" dy="21">100 µM</tspan><tspan x="847.3" dy="21">100 µM</tspan><tspan x="847.3" dy="21">50 µM</tspan></text>
<path class="ar" d="M769.3 1177V1128.5" marker-end="url(#ah)"/>
</g>

<g id="panel-G1">
<path class="ax" d="M64.3 1289.4V1447.65H451"/>
<path class="tk" d="M65.5 1446.15H452" stroke-dasharray="1 26.5"/>
<path class="tk" d="M65.8 1448.15V1288.4" stroke-dasharray="1 11.66"/>
<text class="yl" x="60.8" y="1302" textLength="16" lengthAdjust="spacingAndGlyphs">20</text>
<text class="yl" x="60.8" y="1360.2" textLength="16" lengthAdjust="spacingAndGlyphs">10</text>
<text class="yl" x="60.8" y="1423" textLength="8.5" lengthAdjust="spacingAndGlyphs">0</text>
<text class="xl" x="121" y="1464.5" textLength="8" lengthAdjust="spacingAndGlyphs">0</text>
<text class="xl" x="231" y="1464.5" textLength="15" lengthAdjust="spacingAndGlyphs">40</text>
<text class="xl" x="341" y="1464.5" textLength="15" lengthAdjust="spacingAndGlyphs">80</text>
<text class="xl" x="449" y="1464.5" textLength="24" lengthAdjust="spacingAndGlyphs">120</text>
<text class="tt" x="231" y="1481.5" style="font-size:16px" textLength="52" lengthAdjust="spacingAndGlyphs">Time (s)</text>
<text class="rl" transform="translate(24 1340) rotate(-90)" textLength="90" lengthAdjust="spacingAndGlyphs">Response (RU)</text>
<g class="cv" transform="translate(121 1416) scale(2.75 -6.33)">
<path class="fit" d="M0 0V7.4H60V0.6"/><path class="fit" d="M0 3.95H60"/><path class="fit" d="M0 2.26H60"/><path class="fit" d="M0 1.5H60"/>
</g>
<g filter="url(#nz)">
<g class="cv" transform="translate(121 1416) scale(2.75 -6.33)">
<use href="#gOr" class="gor"/><use href="#gRd" class="grd"/><use href="#gBl" class="gbl"/><use href="#gPk" class="gpk"/>
</g>
</g>
<g class="cv" transform="translate(121 1416) scale(2.75 -6.33)">
<path class="blk" d="M-0.4 0V2.3"/><path class="blk" d="M60 2.3V0.6C80 0.5 100 0.4 120 0.35"/>
</g>
<text class="lt" x="80" y="1317" style="font-size:42px">G<tspan dy="7">1</tspan></text>
<text class="cc" x="393" y="1305">400 µM<tspan x="393" dy="21">200 µM</tspan><tspan x="393" dy="21">100 µM</tspan><tspan x="393" dy="21">100 µM</tspan><tspan x="393" dy="21">50 µM</tspan></text>
<path class="ar" d="M315 1383.5V1335.2" marker-end="url(#ah)"/>
</g>

<g id="panel-G2">
<path class="ax" d="M519.3 1290.4V1446.15H907.2"/>
<path class="tk" d="M520.3 1444.65H908" stroke-dasharray="1 26.6"/>
<path class="tk" d="M520.8 1446.65V1289.4" stroke-dasharray="1 11.46"/>
<text class="yl" x="515.8" y="1302" textLength="16" lengthAdjust="spacingAndGlyphs">20</text>
<text class="yl" x="515.8" y="1360.2" textLength="16" lengthAdjust="spacingAndGlyphs">10</text>
<text class="yl" x="515.8" y="1422.5" textLength="8.5" lengthAdjust="spacingAndGlyphs">0</text>
<text class="xl" x="576" y="1464.5" textLength="8" lengthAdjust="spacingAndGlyphs">0</text>
<text class="xl" x="686.4" y="1464.5" textLength="15" lengthAdjust="spacingAndGlyphs">40</text>
<text class="xl" x="796.8" y="1464.5" textLength="15" lengthAdjust="spacingAndGlyphs">80</text>
<text class="xl" x="901" y="1464.5" textLength="24" lengthAdjust="spacingAndGlyphs">120</text>
<text class="tt" x="686.7" y="1481.5" style="font-size:16px" textLength="52" lengthAdjust="spacingAndGlyphs">Time (s)</text>
<text class="rl" transform="translate(479 1337.5) rotate(-90)" textLength="90" lengthAdjust="spacingAndGlyphs">Response (RU)</text>
<g filter="url(#nz)">
<g class="cv" transform="translate(576 1415) scale(2.76 -6.23)">
<use href="#gOr" class="gor"/><use href="#gRd" class="grd"/><use href="#gBl" class="gbl"/><use href="#gPk" class="gpk"/>
</g>
</g>
<g class="cv" transform="translate(576 1415) scale(2.76 -6.23)">
<path class="fit" d="M-1 0L-0.4 -1.5L0 0C0.5 2 2 6 4 6.8C15 7.4 35 7.8 60 8L60.4 10.3C61 6 62 3 64 1.5C66 0.8 70 0.6 120 0.5"/>
<path class="fit" d="M0 0C0.5 2 2 3.4 4 3.7C15 3.9 35 4 60 4.1C61 2.5 63 1 66 0.4C70 0.2 90 0.2 120 0.2"/>
<path class="fit" d="M0 0C0.5 1.2 2 2 4 2.2C15 2.3 35 2.4 60 2.5C61 1.6 63 0.7 66 0.3C70 0.2 90 0.2 120 0.2"/>
<path class="fit" d="M0 0C0.5 0.6 2 1 4 1.1C15 1.2 35 1.3 60 1.4C61 0.9 63 0.4 66 0.2H120"/>
</g>
<text class="lt" x="534" y="1316" style="font-size:42px">G<tspan dy="7">2</tspan></text>
<text class="cc" x="848.3" y="1303.3">400 µM<tspan x="848.3" dy="21">200 µM</tspan><tspan x="848.3" dy="21">100 µM</tspan><tspan x="848.3" dy="21">100 µM</tspan><tspan x="848.3" dy="21">50 µM</tspan></text>
<path class="ar" d="M770.7 1382V1333.5" marker-end="url(#ah)"/>
</g>
</svg>
